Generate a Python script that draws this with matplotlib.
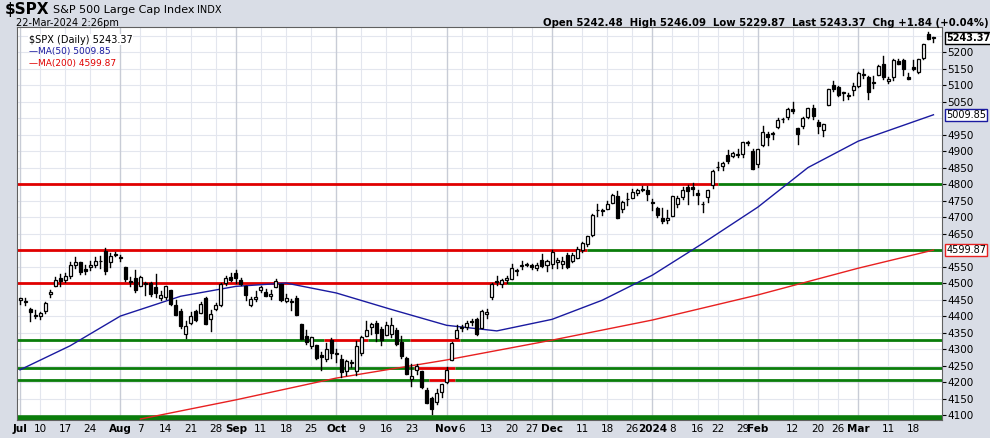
import matplotlib
matplotlib.use("Agg")
import matplotlib.pyplot as plt
from matplotlib.patches import Rectangle

month_days = {
    "Jul": [3,5,6,7,10,11,12,13,14,17,18,19,20,21,24,25,26,27,28,31],
    "Aug": [1,2,3,4,7,8,9,10,11,14,15,16,17,18,21,22,23,24,25,28,29,30,31],
    "Sep": [1,5,6,7,8,11,12,13,14,15,18,19,20,21,22,25,26,27,28,29],
    "Oct": [2,3,4,5,6,9,10,11,12,13,16,17,18,19,20,23,24,25,26,27,30,31],
    "Nov": [1,2,3,6,7,8,9,10,13,14,15,16,17,20,21,22,24,27,28,29,30],
    "Dec": [1,4,5,6,7,8,11,12,13,14,15,18,19,20,21,22,26,27,28,29],
    "Jan": [2,3,4,5,8,9,10,11,12,16,17,18,19,22,23,24,25,26,29,30,31],
    "Feb": [1,2,5,6,7,8,9,12,13,14,15,16,20,21,22,23,26,27,28,29],
    "Mar": [1,4,5,6,7,8,11,12,13,14,15,18,19,20,21,22],
}
opens = [4450,4442,4422,4404,4399,4415,4467,4492,4514,4508,4522,4555,4563,4544,4548,4555,4567,4598,4565,4585,
 4579,4550,4505,4514,4492,4498,4501,4487,4455,4459,4479,4433,4416,4345,4380,4416,4410,4455,4390,4420,4433,4500,4517,
 4530,4510,4490,4434,4451,4480,4473,4462,4487,4497,4445,4444,4454,4375,4341,4310,4312,4282,4269,4328,
 4284,4270,4233,4260,4234,4289,4339,4367,4380,4360,4342,4345,4357,4322,4274,4210,4236,4232,4175,4152,4140,4171,
 4201,4268,4334,4365,4366,4384,4391,4364,4407,4458,4505,4497,4510,4511,4539,4553,4555,4554,4546,4571,4554,
 4559,4565,4557,4586,4568,4576,4601,4618,4646,4721,4720,4725,4743,4764,4724,4754,4758,4773,4786,4782,
 4745,4726,4698,4690,4704,4741,4760,4792,4792,4772,4739,4760,4796,4853,4856,4888,4886,4888,4892,4925,4899,
 4862,4917,4951,4951,4973,4996,5004,5027,4970,4976,5004,5032,4989,4963,5039,5101,5093,5075,5067,5086,
 5098,5131,5124,5108,5132,5164,5111,5124,5173,5175,5124,5154,5139,5181,5254,5243]
highs = [4456,4454,4423,4418,4412,4443,4479,4518,4528,4532,4563,4578,4565,4555,4567,4580,4583,4607,4590,4595,
 4585,4550,4519,4540,4520,4503,4502,4528,4477,4491,4479,4449,4421,4385,4411,4419,4443,4458,4418,4440,4501,4522,4532,
 4541,4515,4491,4457,4476,4490,4481,4479,4511,4497,4467,4452,4461,4376,4357,4338,4313,4292,4317,4334,
 4300,4281,4268,4267,4324,4341,4385,4378,4385,4366,4383,4393,4364,4340,4276,4256,4255,4233,4183,4156,4178,4195,
 4245,4320,4374,4372,4386,4391,4393,4418,4421,4501,4521,4511,4521,4557,4542,4568,4561,4557,4562,4587,4569,
 4599,4575,4579,4591,4591,4609,4623,4644,4710,4739,4725,4749,4769,4778,4749,4772,4785,4785,4793,4794,
 4755,4729,4727,4721,4765,4765,4790,4798,4802,4782,4745,4783,4842,4868,4866,4903,4898,4907,4929,4932,4906,
 4907,4975,4958,4958,5000,5001,5031,5048,4970,5002,5032,5039,4994,4983,5089,5111,5097,5080,5077,5105,
 5140,5150,5127,5128,5160,5189,5125,5179,5179,5180,5136,5175,5180,5225,5261,5246]
lows = [4438,4434,4385,4394,4390,4408,4457,4490,4492,4504,4516,4546,4527,4527,4541,4548,4546,4528,4548,4583,
 4568,4505,4490,4474,4491,4465,4461,4458,4448,4453,4432,4403,4364,4335,4375,4385,4408,4375,4356,4418,4431,4494,4507,
 4501,4494,4450,4431,4445,4472,4461,4452,4487,4447,4442,4418,4402,4330,4316,4302,4270,4238,4265,4274,
 4260,4216,4220,4245,4220,4283,4339,4346,4325,4311,4342,4338,4312,4273,4223,4189,4225,4182,4136,4104,4133,4154,
 4197,4268,4334,4354,4362,4372,4344,4364,4394,4453,4495,4488,4501,4511,4525,4543,4553,4544,4540,4548,4538,
 4546,4545,4547,4546,4565,4575,4594,4611,4643,4702,4705,4725,4743,4698,4716,4736,4758,4768,4780,4751,
 4722,4700,4683,4683,4703,4730,4756,4740,4768,4739,4715,4747,4789,4844,4842,4865,4882,4881,4881,4917,4845,
 4853,4915,4918,4937,4969,4987,4998,5016,4920,4971,4999,4998,4955,4946,5039,5081,5068,5056,5057,5071,
 5094,5122,5057,5091,5132,5117,5105,5115,5163,5132,5117,5146,5138,5179,5240,5230]
closes = [4455,4446,4411,4399,4409,4439,4472,4510,4505,4522,4555,4565,4534,4536,4554,4567,4566,4537,4582,4589,
 4577,4513,4502,4478,4518,4499,4468,4469,4464,4490,4437,4404,4370,4370,4400,4388,4436,4376,4406,4433,4497,4515,4508,
 4516,4497,4465,4451,4457,4487,4462,4467,4505,4450,4454,4444,4402,4330,4320,4337,4274,4275,4300,4288,
 4288,4229,4263,4258,4308,4336,4358,4376,4350,4327,4374,4373,4314,4278,4224,4217,4248,4186,4137,4117,4167,4194,
 4238,4318,4358,4366,4378,4383,4347,4415,4411,4496,4502,4509,4514,4547,4538,4556,4559,4550,4555,4551,4568,
 4595,4569,4567,4549,4585,4604,4622,4644,4707,4720,4719,4741,4768,4698,4746,4755,4775,4781,4783,4770,
 4743,4705,4689,4697,4764,4757,4783,4780,4784,4766,4739,4781,4840,4851,4865,4869,4894,4891,4928,4925,4846,
 4906,4959,4943,4954,4995,4998,5027,5022,4953,5001,5030,5006,4976,4982,5087,5089,5070,5078,5070,5096,
 5137,5131,5079,5105,5157,5124,5117,5175,5165,5150,5117,5149,5179,5225,5241,5243]

ma50_idx = [0,10,20,32,43,53,63,74,85,95,106,116,126,136,147,157,167,182]
ma50_val = [4237,4310,4400,4460,4490,4500,4470,4420,4372,4355,4390,4448,4524,4620,4730,4850,4930,5010]
ma200_idx = [24,43,63,85,106,126,147,167,182]
ma200_val = [4088,4146,4212,4267,4327,4388,4464,4545,4600]

levels = [
    (4800, [(-1, 139, "red"), (139, 184, "green")]),
    (4600, [(-1, 113, "red"), (113, 184, "green")]),
    (4500, [(-1, 97, "red"), (97, 184, "green")]),
    (4327, [(-1, 60.5, "green"), (60.5, 69.3, "red"), (69.3, 77.7, "green"), (77.7, 87.6, "red"), (87.6, 184, "green")]),
    (4242, [(-1, 78.5, "green"), (78.5, 86.6, "red"), (86.6, 184, "green")]),
    (4206, [(-1, 81.5, "green"), (81.5, 86.6, "red"), (86.6, 184, "green")]),
    (4090, [(-1, 184, "green")]),
]

y_ticks = [4100,4150,4200,4250,4300,4350,4400,4450,4500,4550,4650,4700,4750,4800,4850,4900,4950,5050,5100,5150,5200]

months_order = ["Jul","Aug","Sep","Oct","Nov","Dec","Jan","Feb","Mar"]
mondays = {"Jul":[10,17,24],"Aug":[7,14,21,28],"Sep":[11,18,25],"Oct":[9,16,23],"Nov":[6,13,20,27],
           "Dec":[11,18,26],"Jan":[8,16,22,29],"Feb":[12,20,26],"Mar":[11,18]}
tick_labels = []
idx = 0
for m in months_order:
    days = month_days[m]
    tick_labels.append((idx, "2024" if m == "Jan" else m, True))
    for d in mondays[m]:
        tick_labels.append((idx + days.index(d), str(d), False))
    idx += len(days)

fig = plt.figure(figsize=(9.9, 4.38), dpi=100)
fig.patch.set_facecolor("#d9dde6")
ax = fig.add_axes([17/990, 18/438, 925/990, 393/438])
ax.set_facecolor("white")
n = len(closes)
ax.set_xlim(-0.6, 183.7)
ax.set_ylim(4085, 5276)

for y in range(4100, 5276, 50):
    ax.axhline(y, color="#e3e6ee", lw=0.8, zorder=0)
for t, lab, bold in tick_labels:
    ax.axvline(t, color="#c8ccd6" if bold else "#e3e6ee", lw=1.0 if bold else 0.8, zorder=0)

for lvl, segs in levels:
    for s, e, c in segs:
        ax.plot([s, e], [lvl, lvl], color=("#e00000" if c == "red" else "#0a7d0a"),
                lw=2 if lvl > 4095 else 4, zorder=1, solid_capstyle="butt")

ax.plot(ma50_idx, ma50_val, color="#1a1aa0", lw=1, zorder=2)
ax.plot(ma200_idx, ma200_val, color="#e82020", lw=1, zorder=2)

w = 0.6
for i in range(n):
    o, h, l, c = opens[i], highs[i], lows[i], closes[i]
    ax.plot([i, i], [l, h], color="black", lw=1, zorder=3)
    bottom = min(o, c)
    height = max(abs(c - o), 1.5)
    face = "white" if c >= o else "black"
    ax.add_patch(Rectangle((i - w/2, bottom), w, height, facecolor=face, edgecolor="black", lw=0.9, zorder=4))

ax.yaxis.tick_right()
ax.set_yticks(y_ticks)
ax.tick_params(axis="y", length=3, labelsize=7.5, pad=1, colors="black")
ax.set_xticks([t for t, _, _ in tick_labels])
ax.set_xticklabels([lab for _, lab, _ in tick_labels], fontsize=7.5)
for tl, (_, _, bold) in zip(ax.get_xticklabels(), tick_labels):
    if bold:
        tl.set_fontweight("bold")
ax.tick_params(axis="x", length=0, pad=3)
for sp in ax.spines.values():
    sp.set_color("#606060")
    sp.set_linewidth(0.8)

for val, col in [(5243.37, "black"), (5009.85, "#1a1aa0"), (4599.87, "#e82020")]:
    ax.annotate(f"{val:.2f}", xy=(1.0, val), xycoords=("axes fraction", "data"), xytext=(3, 0),
                textcoords="offset points", va="center", ha="left", fontsize=7,
                fontweight="bold" if col == "black" else "normal", color="black",
                bbox=dict(boxstyle="square,pad=0.12", fc="white", ec=col, lw=1), zorder=10)

fig.text(0.005, 0.978, "$SPX", fontsize=11, fontweight="bold", va="center")
fig.text(0.054, 0.978, "S&P 500 Large Cap Index", fontsize=8, va="center")
fig.text(0.199, 0.978, "INDX", fontsize=7, va="center")
fig.text(0.016, 0.948, "22-Mar-2024 2:26pm", fontsize=7, va="center")
fig.text(0.548, 0.948, "Open 5242.48  High 5246.09  Low 5229.87  Last 5243.37  Chg +1.84 (+0.04%)",
         fontsize=7.3, fontweight="bold", va="center")
ax.text(0.013, 0.968, "$SPX (Daily) 5243.37", transform=ax.transAxes, fontsize=7, va="center",
        bbox=dict(fc="white", ec="none", pad=0.5))
ax.text(0.013, 0.937, "\u2014MA(50) 5009.85", transform=ax.transAxes, fontsize=6.5, color="#1a1aa0", va="center")
ax.text(0.013, 0.906, "\u2014MA(200) 4599.87", transform=ax.transAxes, fontsize=6.5, color="#e00000", va="center")

fig.savefig("out.png", dpi=100, facecolor=fig.get_facecolor())
